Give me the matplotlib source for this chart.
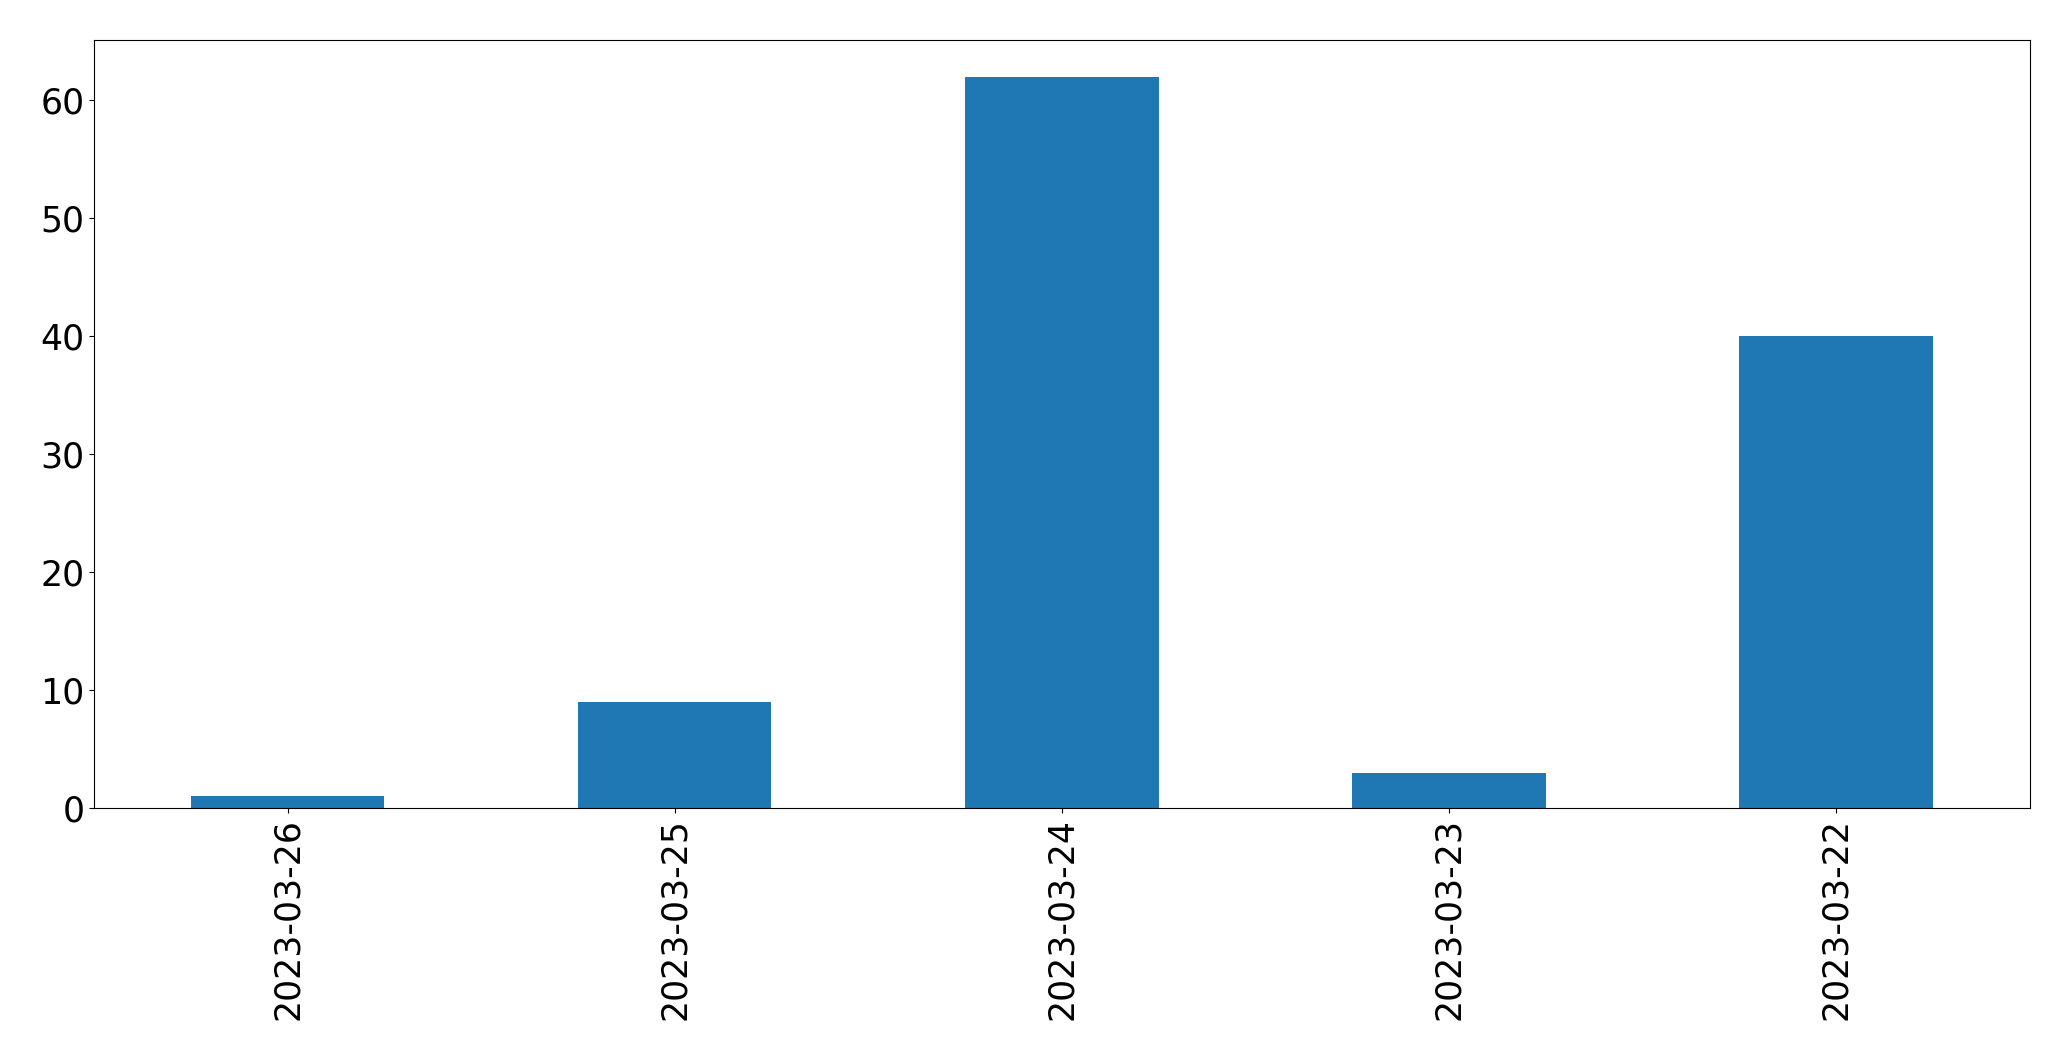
import matplotlib
matplotlib.use("Agg")
import matplotlib.pyplot as plt

dates = ["2023-03-26", "2023-03-25", "2023-03-24", "2023-03-23", "2023-03-22"]
counts = [1, 9, 62, 3, 40]

fig = plt.figure(figsize=(20.71, 10.61), dpi=100)
ax = fig.add_axes([0.0454, 0.2385, 0.9346, 0.7235])
ax.bar(range(len(dates)), counts, width=0.5, color="#1f77b4")
ax.set_xticks(range(len(dates)))
ax.set_xticklabels(dates, rotation=90)
ax.set_xlim(-0.5, len(dates) - 0.5)
ax.tick_params(labelsize=25)
fig.savefig("out.png", dpi=100)
